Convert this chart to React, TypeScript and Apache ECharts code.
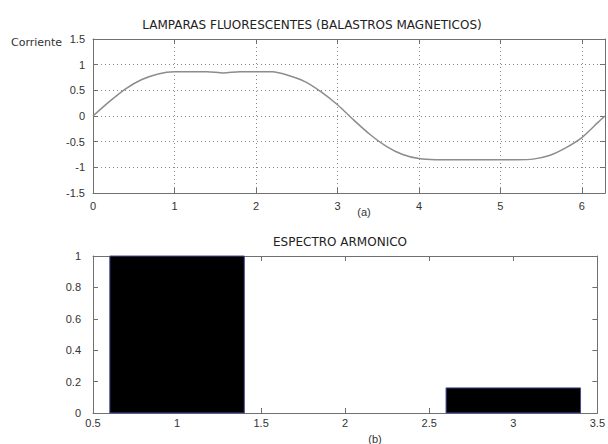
import React, { useEffect, useRef } from "react";
import * as echarts from "echarts";

// Top plot: current waveform over one period
const angleValues = [0, 0.2, 0.4, 0.6, 0.8, 1.0, 1.2, 1.4, 1.6, 1.8, 2.0, 2.2, 2.4, 2.6, 2.8, 3.0, 3.2, 3.4, 3.6, 3.8, 4.0, 4.2, 4.4, 4.6, 4.8, 5.0, 5.2, 5.4, 5.6, 5.8, 6.0, 6.2, 6.2832];
const currentValues = [0, 0.28, 0.53, 0.71, 0.82, 0.86, 0.86, 0.86, 0.84, 0.86, 0.86, 0.86, 0.79, 0.67, 0.47, 0.22, -0.08, -0.36, -0.59, -0.75, -0.83, -0.85, -0.85, -0.85, -0.85, -0.85, -0.85, -0.84, -0.77, -0.62, -0.42, -0.12, 0];

// Bottom plot: harmonic spectrum
const harmonicOrders = [1, 3];
const harmonicAmplitudes = [1, 0.16];

const topTitle = "LAMPARAS FLUORESCENTES (BALASTROS MAGNETICOS)";
const bottomTitle = "ESPECTRO ARMONICO";
const yName = "Corriente";
const labelA = "(a)";
const labelB = "(b)";

const FONT = "Liberation Sans, Arial, sans-serif";
const TITLE_FONT = "DejaVu Sans, sans-serif";
const AXIS_COLOR = "#707070";
const TEXT_COLOR = "#333";
const BAR_HALF = 0.4;

export default function App() {
  const ref = useRef<HTMLDivElement>(null);

  useEffect(() => {
    if (!ref.current) return;
    const chart = echarts.init(ref.current, undefined, { renderer: "svg" });

    const lineData = angleValues.map((x, i) => [x, currentValues[i]]);
    const barData = harmonicOrders.map((h, i) => [h, harmonicAmplitudes[i]]);

    const axisLine = { show: true, onZero: false, lineStyle: { color: AXIS_COLOR, width: 1 } };
    const tickIn = { show: true, inside: true, length: 5, lineStyle: { color: AXIS_COLOR } };
    const label = { color: TEXT_COLOR, fontSize: 11, fontFamily: FONT };
    const dotted = { show: true, lineStyle: { color: "#8a8a8a", type: [1, 3], width: 1 } };

    const topX = { min: 0, max: 6.2832, interval: 1 };
    const topY = { min: -1.5, max: 1.5, interval: 0.5 };
    const botX = { min: 0.5, max: 3.5, interval: 0.5 };
    const botY = { min: 0, max: 1, interval: 0.2 };

    const intFmt = (v: number) => (Math.abs(v - Math.round(v)) < 1e-9 ? String(Math.round(v)) : "");

    chart.setOption({
      animation: false,
      backgroundColor: "#fff",
      grid: [
        { left: 93, top: 39, width: 515, height: 154 },
        { left: 93, top: 256, width: 515, height: 157 },
      ],
      xAxis: [
        {
          type: "value", gridIndex: 0, position: "bottom", ...topX,
          axisLine, axisTick: tickIn,
          axisLabel: { ...label, margin: 7, formatter: intFmt },
          splitLine: dotted,
        },
        {
          type: "value", gridIndex: 0, position: "top", ...topX,
          axisLine, axisTick: tickIn, axisLabel: { show: false }, splitLine: { show: false },
        },
        {
          type: "value", gridIndex: 1, position: "bottom", ...botX,
          axisLine, axisTick: tickIn,
          axisLabel: { ...label, margin: 4 },
          splitLine: { show: false },
        },
        {
          type: "value", gridIndex: 1, position: "top", ...botX,
          axisLine, axisTick: tickIn, axisLabel: { show: false }, splitLine: { show: false },
        },
      ],
      yAxis: [
        {
          type: "value", gridIndex: 0, position: "left", ...topY,
          axisLine, axisTick: tickIn,
          axisLabel: { ...label, margin: 8 },
          splitLine: dotted,
        },
        {
          type: "value", gridIndex: 0, position: "right", ...topY,
          axisLine, axisTick: tickIn, axisLabel: { show: false }, splitLine: { show: false },
        },
        {
          type: "value", gridIndex: 1, position: "left", ...botY,
          axisLine, axisTick: tickIn,
          axisLabel: { ...label, margin: 12 },
          splitLine: { show: false },
        },
        {
          type: "value", gridIndex: 1, position: "right", ...botY,
          axisLine, axisTick: tickIn, axisLabel: { show: false }, splitLine: { show: false },
        },
      ],
      series: [
        {
          type: "line",
          xAxisIndex: 0,
          yAxisIndex: 0,
          data: lineData,
          symbol: "none",
          smooth: 0.25,
          lineStyle: { color: "#8c8c8c", width: 1.5 },
          z: 5,
        },
        {
          type: "custom",
          xAxisIndex: 2,
          yAxisIndex: 2,
          data: barData,
          encode: { x: 0, y: 1 },
          renderItem: (params: any, api: any) => {
            const x = api.value(0);
            const h = api.value(1);
            const p0 = api.coord([x - BAR_HALF, 0]);
            const p1 = api.coord([x + BAR_HALF, h]);
            return {
              type: "rect",
              shape: { x: p0[0], y: p1[1], width: p1[0] - p0[0], height: p0[1] - p1[1] },
              style: { fill: "#000", stroke: "#4a4a9a", lineWidth: 1 },
            };
          },
          z: 3,
        },
      ],
      graphic: [
        {
          type: "text", x: 312, y: 25,
          style: { text: topTitle, font: `12px ${TITLE_FONT}`, fill: "#222", align: "center", verticalAlign: "middle" },
        },
        {
          type: "text", x: 340, y: 242,
          style: { text: bottomTitle, font: `12px ${TITLE_FONT}`, fill: "#222", align: "center", verticalAlign: "middle" },
        },
        {
          type: "text", x: 11, y: 42,
          style: { text: yName, font: `11px ${TITLE_FONT}`, fill: "#333", align: "left", verticalAlign: "middle" },
        },
        {
          type: "text", x: 364, y: 212,
          style: { text: labelA, font: `11px ${FONT}`, fill: "#333", align: "center", verticalAlign: "middle" },
        },
        {
          type: "text", x: 375, y: 439,
          style: { text: labelB, font: `11px ${FONT}`, fill: "#333", align: "center", verticalAlign: "middle" },
        },
      ],
    });

    return () => chart.dispose();
  }, []);

  return (
    <div
      ref={ref}
      style={{ position: "fixed", left: 0, top: 0, width: 608, height: 444 }}
    />
  );
}
